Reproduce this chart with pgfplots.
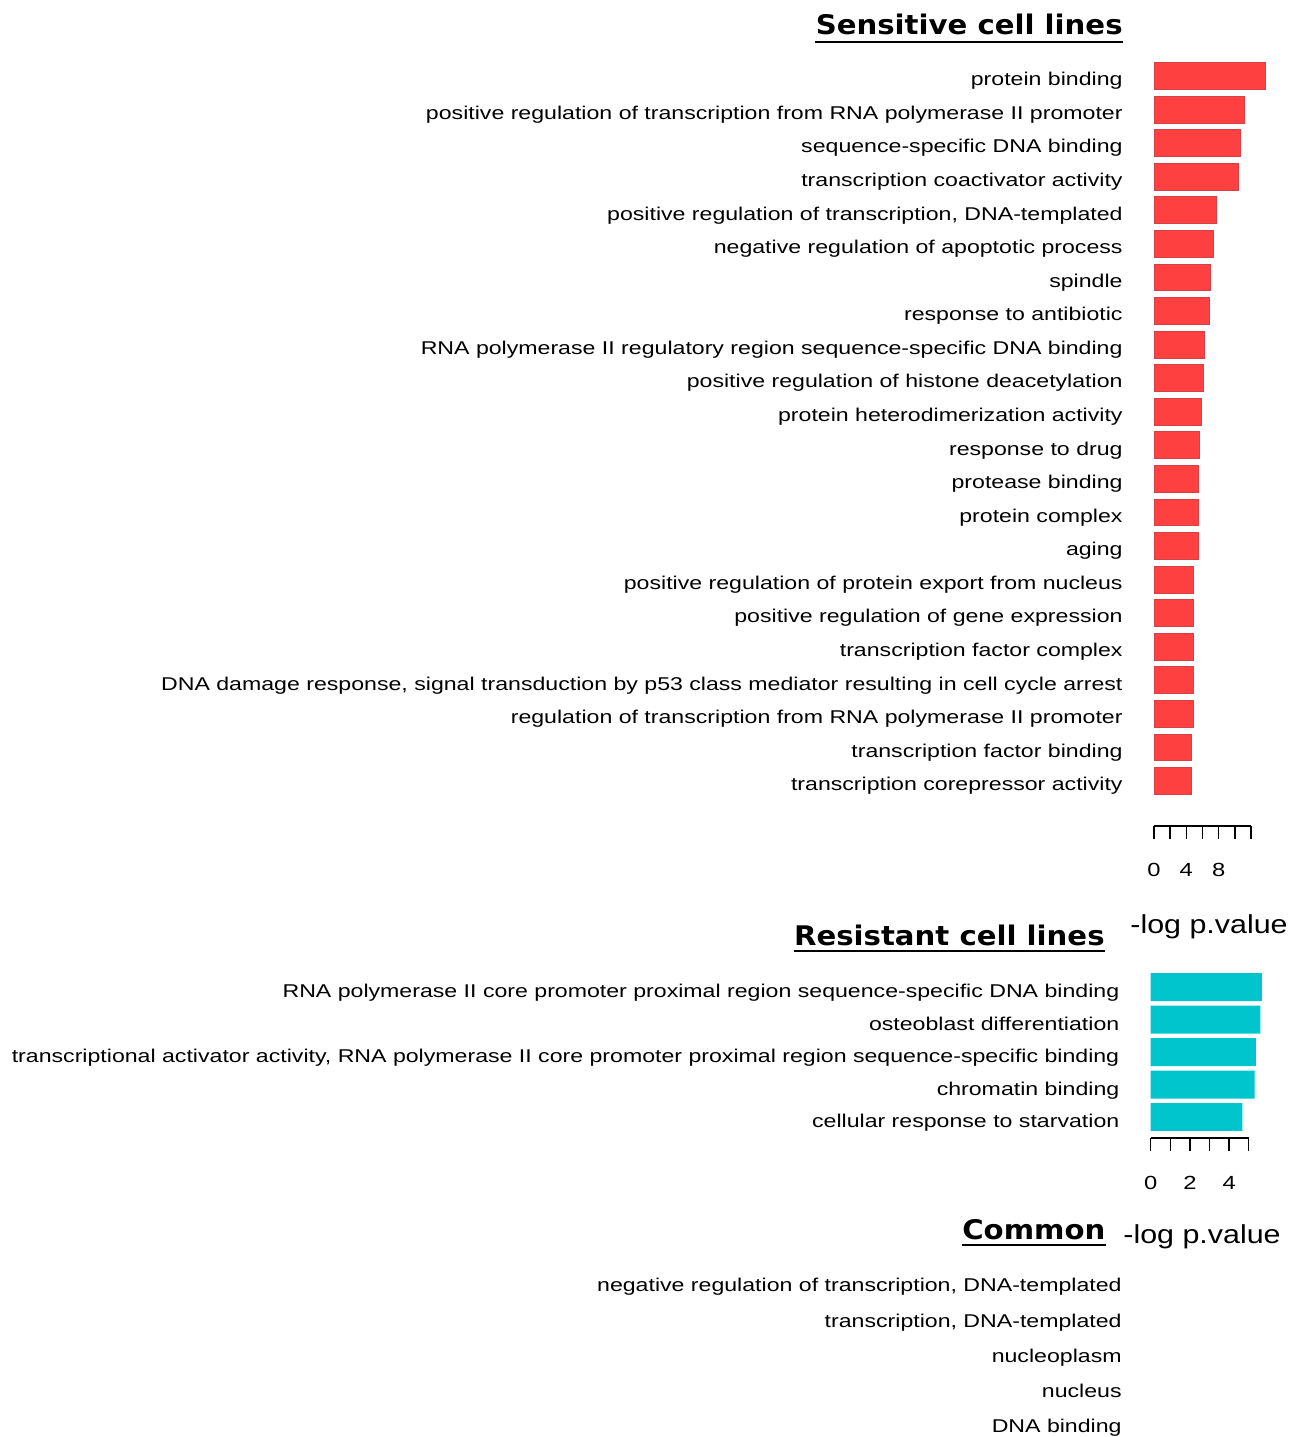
\documentclass[border=0pt]{standalone}
\usepackage{pgfplots}
\pgfplotsset{compat=1.18}
\usepackage{pgfplotstable}
\usepackage{fontspec}
\setmainfont{Liberation Sans}
\newfontfamily\lab[FakeStretch=1.25]{Liberation Sans}
\newfontfamily\logf[FakeStretch=1.17]{Liberation Sans}
\newfontfamily\ttl[FakeStretch=1.08]{DejaVu Sans}
\newcommand\labfont{\lab\fontsize{9.25bp}{11bp}\selectfont}
\newcommand\tickfont{\lab\fontsize{9.5bp}{11bp}\selectfont}
\newcommand\logfont{\logf\fontsize{13bp}{15bp}\selectfont}
\newcommand\titlefont{\ttl\bfseries\fontsize{13.5bp}{16bp}\selectfont}
\definecolor{sens}{HTML}{FF4040}
\definecolor{sensb}{HTML}{D84048}
\definecolor{res}{HTML}{00C5CD}

\pgfplotstableread{
i v
1 13.8
2 11.15
3 10.65
4 10.5
5 7.7
6 7.37
7 6.95
8 6.8
9 6.2
10 6.05
11 5.9
12 5.64
13 5.47
14 5.47
15 5.47
16 4.9
17 4.9
18 4.9
19 4.9
20 4.9
21 4.57
22 4.57
}\sensdata

\pgfplotstableread{
i v
1 5.67
2 5.6
3 5.36
4 5.3
5 4.68
}\resdata

\begin{document}
\begin{tikzpicture}
\useasboundingbox (0,0) rectangle (651.5bp,-718.5bp);

% Sensitive
\begin{axis}[
  at={(577bp,-413bp)}, anchor=south west,
  scale only axis, width=48.5bp, height=383.4bp,
  xmin=0, xmax=12, ymin=0.5, ymax=23.34, y dir=reverse,
  xbar, bar width=0.8, bar shift=0pt, clip=false,
  axis x line*=bottom, axis y line*=left,
  y axis line style={draw=none},
  x axis line style={line width=0.75bp, -},
  xtick={0,2,...,12}, xticklabels={0,,4,,8,,},
  tick align=outside, major tick length=6.5bp,
  xtick style={line width=0.75bp, black},
  ytick style={draw=none},
  ytick={1,...,22},
  yticklabels={
    protein binding,
    positive regulation of transcription from RNA polymerase II promoter,
    sequence-specific DNA binding,
    transcription coactivator activity,
    {positive regulation of transcription, DNA-templated},
    negative regulation of apoptotic process,
    spindle,
    response to antibiotic,
    RNA polymerase II regulatory region sequence-specific DNA binding,
    positive regulation of histone deacetylation,
    protein heterodimerization activity,
    response to drug,
    protease binding,
    protein complex,
    aging,
    positive regulation of protein export from nucleus,
    positive regulation of gene expression,
    transcription factor complex,
    {DNA damage response, signal transduction by p53 class mediator resulting in cell cycle arrest},
    regulation of transcription from RNA polymerase II promoter,
    transcription factor binding,
    transcription corepressor activity},
  yticklabel style={font=\labfont, anchor=base east, inner sep=0pt, xshift=-9bp, yshift=-4.9bp},
  xticklabel style={font=\tickfont, anchor=north, inner sep=0pt, yshift=-12bp},
]
\addplot[fill=sens, draw=sensb, line width=0.4bp] table[x=v, y=i] {\sensdata};
\end{axis}

% Resistant
\begin{axis}[
  at={(575.35bp,-569bp)}, anchor=south west,
  scale only axis, width=49bp, height=83.6bp,
  xmin=0, xmax=5, ymin=0.5, ymax=5.646, y dir=reverse,
  xbar, bar width=0.86, bar shift=0pt, clip=false,
  axis x line*=bottom, axis y line*=left,
  y axis line style={draw=none},
  x axis line style={line width=0.75bp, -},
  xtick={0,1,...,5}, xticklabels={0,,2,,4,},
  tick align=outside, major tick length=6.5bp,
  xtick style={line width=0.75bp, black},
  ytick style={draw=none},
  ytick={1,...,5},
  yticklabels={
    RNA polymerase II core promoter proximal region sequence-specific DNA binding,
    osteoblast differentiation,
    {transcriptional activator activity, RNA polymerase II core promoter proximal region sequence-specific binding},
    chromatin binding,
    cellular response to starvation},
  yticklabel style={font=\labfont, anchor=base east, inner sep=0pt, xshift=-9bp, yshift=-5.4bp},
  xticklabel style={font=\tickfont, anchor=north, inner sep=0pt, yshift=-12.5bp},
]
\addplot[fill=res, draw=none] table[x=v, y=i] {\resdata};
\end{axis}

% Common
\begin{axis}[
  at={(576.5bp,-721.3bp)}, anchor=south west,
  scale only axis, width=48.5bp, height=88.1bp,
  xmin=0, xmax=12, ymin=0.5, ymax=5.5, y dir=reverse,
  hide x axis,
  axis line style={draw=none},
  tick align=outside, major tick length=6.5bp,
  ytick style={draw=none},
  ytick={1,...,5},
  yticklabels={
    {negative regulation of transcription, DNA-templated},
    {transcription, DNA-templated},
    nucleoplasm,
    nucleus,
    DNA binding},
  yticklabel style={font=\labfont, anchor=base east, inner sep=0pt, xshift=-9bp, yshift=-3.9bp},
]
\addplot[draw=none] coordinates {(0,1)};
\end{axis}

% Titles
\node[font=\titlefont, anchor=base east, inner sep=0pt] (t1) at (561.5bp,-17.35bp) {Sensitive cell lines};
\draw[line width=1bp] ([yshift=-3.6bp]t1.base west) -- ([yshift=-3.6bp]t1.base east);
\node[font=\titlefont, anchor=base east, inner sep=0pt] (t2) at (552.5bp,-472.5bp) {Resistant cell lines};
\draw[line width=1bp] ([yshift=-3bp]t2.base west) -- ([yshift=-3bp]t2.base east);
\node[font=\titlefont, anchor=base east, inner sep=0pt] (t3) at (552.85bp,-619.5bp) {Common};
\draw[line width=1bp] ([yshift=-3bp]t3.base west) -- ([yshift=-3bp]t3.base east);

\node[font=\logfont, anchor=base west, inner sep=0pt] at (565bp,-466.85bp) {-log p.value};
\node[font=\logfont, anchor=base west, inner sep=0pt] at (561.5bp,-621.5bp) {-log p.value};
\end{tikzpicture}
\end{document}
